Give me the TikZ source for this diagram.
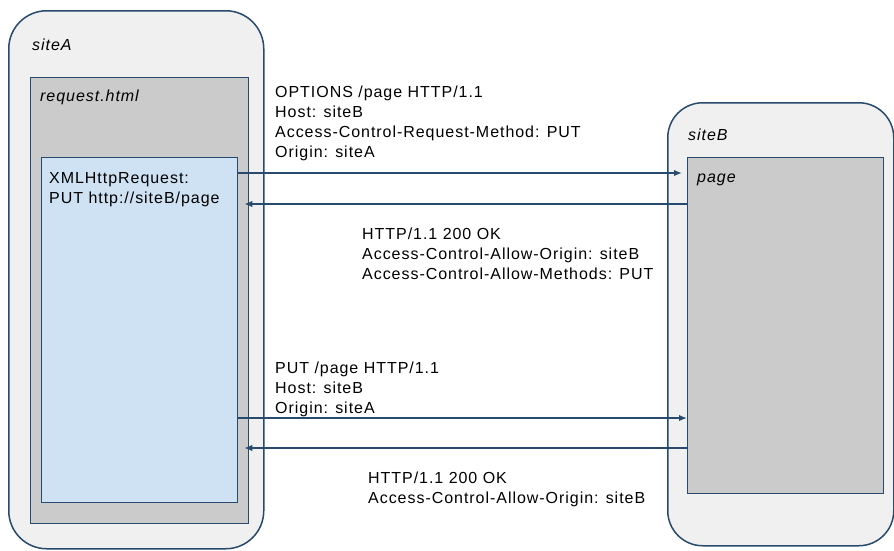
\documentclass[tikz,border=0pt]{standalone}
\usepackage{fontspec}
\setmainfont{Liberation Sans}
\newfontfamily\msgfont[LetterSpace=6]{Liberation Sans}
\usetikzlibrary{arrows.meta}
\definecolor{edgeblue}{RGB}{40,74,108}
\definecolor{outerfill}{RGB}{240,240,240}
\definecolor{grayfill}{RGB}{203,203,203}
\definecolor{bluefill}{RGB}{207,226,243}
\tikzset{
  sitebox/.style={draw=edgeblue, line width=1.5pt, fill=outerfill, anchor=north west, inner sep=0pt},
  docbox/.style={draw=edgeblue, line width=1.3pt, fill=grayfill, anchor=north west, inner sep=0pt},
  xhrbox/.style={draw=edgeblue, line width=1.3pt, fill=bluefill, anchor=north west, inner sep=0pt},
  lbl/.style={font=\msgfont\fontsize{16}{19}\selectfont\itshape, inner sep=0pt, anchor=base west},
  msg/.style={font=\msgfont\fontsize{16}{20}\selectfont, inner sep=0pt, anchor=north west, align=left},
  arr/.style={draw=edgeblue, line width=1.6pt, -{Latex[length=8pt,width=6.5pt]}}
}
\begin{document}
\begin{tikzpicture}[x=1pt,y=-1pt]
\useasboundingbox (0,0) rectangle (894,550);
\node[sitebox, rounded corners=38pt, minimum width=255pt, minimum height=538pt] (siteA) at (8,10) {};
\node[docbox, minimum width=218pt, minimum height=446pt] (req) at (30,77) {};
\node[xhrbox, minimum width=196pt, minimum height=345pt] (xhr) at (41,157) {};
\node[sitebox, rounded corners=35pt, minimum width=226pt, minimum height=443pt] (siteB) at (667,102) {};
\node[docbox, minimum width=196pt, minimum height=336pt] (page) at (687,157) {};

\node[lbl] (lA) at (32,50) {siteA};
\node[lbl] (lreq) at (40,101) {request.html};
\node[msg] (lxhr) at (49,172.5) {XMLHttpRequest:\\PUT http://siteB/page};
\node[lbl] (lB) at (688,140) {siteB};
\node[lbl] (lpage) at (697,182) {page};

\node[msg] (m1) at (275,85.5) {OPTIONS /page HTTP/1.1\\Host: siteB\\Access-Control-Request-Method: PUT\\Origin: siteA};
\node[msg] (m2) at (362,227.5) {HTTP/1.1 200 OK\\Access-Control-Allow-Origin: siteB\\Access-Control-Allow-Methods: PUT};
\node[msg] (m3) at (275,361.5) {PUT /page HTTP/1.1\\Host: siteB\\Origin: siteA};
\node[msg] (m4) at (368,471.5) {HTTP/1.1 200 OK\\Access-Control-Allow-Origin: siteB};

\draw[arr, shorten >=5pt] (xhr.east |- 0,173) -- (page.west |- 0,173);
\draw[arr, shorten >=6pt] (page.west |- 0,204) -- (xhr.east |- 0,204);
\draw[arr] (xhr.east |- 0,418) -- (page.west |- 0,418);
\draw[arr, shorten >=6pt] (page.west |- 0,448) -- (xhr.east |- 0,448);
\end{tikzpicture}
\end{document}
